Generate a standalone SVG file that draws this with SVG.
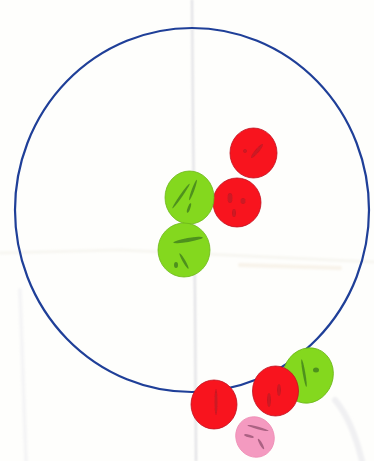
<svg xmlns="http://www.w3.org/2000/svg" width="374" height="461" viewBox="0 0 374 461">
<style>
.red{fill:#f8141e;stroke:#c01020;stroke-width:.8}
.green{fill:#84d81e;stroke:#6cb818;stroke-width:.8}
.pink{fill:#f49ac0;stroke:#ee8cb4;stroke-width:.8}
.mr{fill:#a81c24;opacity:.55}
.mg{fill:#2f6a1c;opacity:.65}
.mp{fill:#7a3a5a;opacity:.6}
.fold{fill:none;stroke-linecap:round}
</style>
<defs><filter id="soft" x="-10%" y="-10%" width="120%" height="120%"><feGaussianBlur stdDeviation="1.2"/></filter>
<filter id="b" x="-30%" y="-30%" width="160%" height="160%"><feGaussianBlur stdDeviation=".7"/></filter></defs>
<rect width="374" height="461" fill="#fefefc"/>
<g filter="url(#soft)">
<path class="fold" d="M192 0L193 120L195 300L196 461" stroke="#dedee2" stroke-width="2"/>
<path class="fold" d="M0 253L120 250L374 262" stroke="#f7f6f1" stroke-width="3"/>
<path class="fold" d="M20 290L26 461" stroke="#f5f5f6" stroke-width="4"/>
<path class="fold" d="M335 400Q352 420 362 461" stroke="#f0f0f2" stroke-width="6"/>
<path class="fold" d="M240 265L340 268" stroke="#f8f3ea" stroke-width="4"/>
</g>
<g id="connectors">
<ellipse cx="192" cy="210" rx="177" ry="182" fill="none" stroke="#1f3f98" stroke-width="2.200"/>
</g>
<g id="node-red-1"><ellipse class="red" cx="253.500" cy="153" rx="23.500" ry="25"/><g filter="url(#b)"><ellipse class="mr" cx="257" cy="151" rx="9" ry="2" transform="rotate(-50 257 151)"/><ellipse class="mr" cx="245" cy="151" rx="2" ry="2"/></g></g>
<g id="node-red-2"><ellipse class="red" cx="237" cy="202.500" rx="24" ry="24.500"/><g filter="url(#b)"><ellipse class="mr" cx="230" cy="198" rx="2.500" ry="5"/><ellipse class="mr" cx="243" cy="201" rx="2.500" ry="3"/><ellipse class="mr" cx="234" cy="213" rx="2" ry="4"/></g></g>
<g id="node-green-1"><ellipse class="green" cx="189.500" cy="197.500" rx="24.500" ry="26.500"/><g filter="url(#b)"><ellipse class="mg" cx="181" cy="196" rx="15" ry="1.300" transform="rotate(-55 181 196)"/><ellipse class="mg" cx="193" cy="190" rx="11" ry="1.300" transform="rotate(-70 193 190)"/><ellipse class="mg" cx="189" cy="208" rx="5" ry="1.300" transform="rotate(-70 189 208)"/></g></g>
<g id="node-green-2"><ellipse class="green" cx="184" cy="250" rx="26" ry="27"/><g filter="url(#b)"><ellipse class="mg" cx="188" cy="240" rx="15" ry="2" transform="rotate(-10 188 240)"/><ellipse class="mg" cx="184" cy="261" rx="9" ry="1.300" transform="rotate(60 184 261)"/><ellipse class="mg" cx="176" cy="265" rx="2" ry="3"/></g></g>
<g id="node-red-3"><ellipse class="red" cx="214" cy="404.500" rx="23" ry="24.500"/><g filter="url(#b)"><ellipse class="mr" cx="216" cy="402" rx="1.500" ry="13"/></g></g>
<g id="node-green-3"><ellipse class="green" cx="308" cy="375.500" rx="25" ry="28" transform="rotate(20 308 375.500)"/><g filter="url(#b)"><ellipse class="mg" cx="304" cy="373" rx="14" ry="1.300" transform="rotate(80 304 373)"/><ellipse class="mg" cx="316" cy="370" rx="3" ry="2.500"/></g></g>
<g id="node-red-4"><ellipse class="red" cx="275.500" cy="391" rx="23" ry="25"/><g filter="url(#b)"><ellipse class="mr" cx="269" cy="400" rx="2" ry="7"/><ellipse class="mr" cx="279" cy="390" rx="2" ry="6"/></g></g>
<g id="node-pink"><ellipse class="pink" cx="255" cy="437" rx="19" ry="20.500" transform="rotate(-25 255 437)"/><g filter="url(#b)"><ellipse class="mp" cx="258" cy="428" rx="11" ry="1.300" transform="rotate(15 258 428)"/><ellipse class="mp" cx="249" cy="436" rx="5" ry="1.300" transform="rotate(15 249 436)"/><ellipse class="mp" cx="261" cy="444" rx="6" ry="1.300" transform="rotate(60 261 444)"/></g></g>
</svg>
